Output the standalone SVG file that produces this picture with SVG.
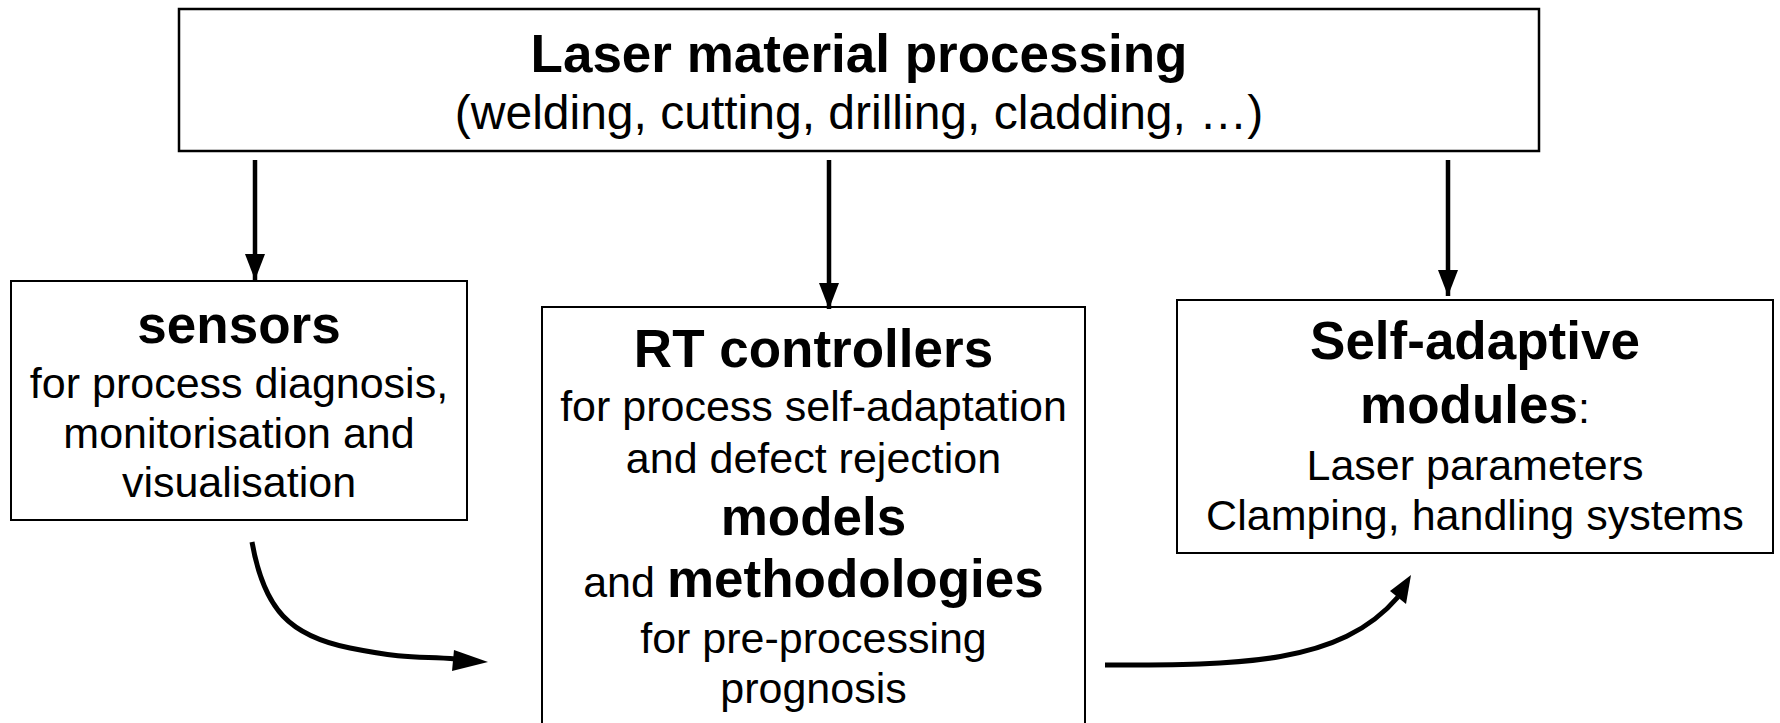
<svg xmlns="http://www.w3.org/2000/svg" width="1780" height="723" viewBox="0 0 1780 723">
<style>
.box{fill:#fff;stroke:#000;stroke-width:2}
.t{font-family:"Liberation Sans",Arial,sans-serif;fill:#000;text-anchor:middle}
.b{font-weight:bold;font-size:53px}
.r{font-size:43px}
.s{font-size:48px}
.ln{fill:none;stroke:#000;stroke-width:4.5}
.cv{fill:none;stroke:#000;stroke-width:5}
</style>
<defs>
<marker id="ah" viewBox="0 0 26 20" refX="26" refY="10" markerWidth="26" markerHeight="20" markerUnits="userSpaceOnUse" orient="auto">
<path d="M0,0 L26,10 L0,20 Z" fill="#000"/>
</marker>
</defs>
<rect width="1780" height="723" fill="#fff"/>
<g id="top">
<rect class="box" x="179" y="9" width="1360" height="142" style="stroke-width:2.5"/>
<text class="t b" x="859" y="72">Laser material processing</text>
<text class="t s" x="859" y="129">(welding, cutting, drilling, cladding, …)</text>
</g>
<g id="sensors">
<rect class="box" x="11" y="281" width="456" height="239"/>
<text class="t b" x="239" y="343">sensors</text>
<text class="t r" x="239" y="398">for process diagnosis,</text>
<text class="t r" x="239" y="448">monitorisation and</text>
<text class="t r" x="239" y="497">visualisation</text>
</g>
<g id="rt">
<rect class="box" x="542" y="307" width="543" height="430"/>
<text class="t b" x="813.5" y="367">RT controllers</text>
<text class="t r" x="813.5" y="421">for process self-adaptation</text>
<text class="t r" x="813.5" y="473">and defect rejection</text>
<text class="t b" x="813.5" y="535">models</text>
<text class="t" x="813.5" y="597"><tspan class="r">and </tspan><tspan class="b">methodologies</tspan></text>
<text class="t r" x="813.5" y="653">for pre-processing</text>
<text class="t r" x="813.5" y="703">prognosis</text>
</g>
<g id="selfadaptive">
<rect class="box" x="1177" y="300" width="596" height="253"/>
<text class="t b" x="1475" y="359">Self-adaptive</text>
<text class="t" x="1475" y="423"><tspan class="b">modules</tspan><tspan class="r">:</tspan></text>
<text class="t r" x="1475" y="480">Laser parameters</text>
<text class="t r" x="1475" y="530">Clamping, handling systems</text>
</g>
<g id="connectors">
<line class="ln" x1="255" y1="160" x2="255" y2="280" marker-end="url(#ah)"/>
<line class="ln" x1="829" y1="160" x2="829" y2="309" marker-end="url(#ah)"/>
<line class="ln" x1="1448" y1="160" x2="1448" y2="296" marker-end="url(#ah)"/>
<path class="cv" d="M252,542 C264,610 290,636 350,648 S420,656 456,659"/>
<polygon points="488,662 454,650 452,671" fill="#000"/>
<path class="cv" d="M1105,665 C1240,665 1340,665 1398,597"/>
<polygon points="1411,575 1390,591 1406,604" fill="#000"/>
</g>
</svg>
